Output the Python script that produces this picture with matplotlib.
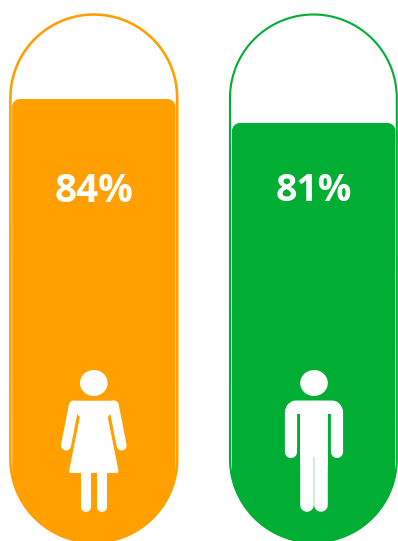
import numpy as np
import matplotlib.pyplot as plt
from matplotlib.patches import Ellipse, Polygon, Rectangle
from matplotlib.transforms import Affine2D

# Two capsule gauges, women and men

#DATA ----------------
GROUPS = ['women', 'men']
VALUES = [84, 81]
COLORS = ['#FFA000', '#00AE33']

#LAYOUT ----------------
WIDTH, HEIGHT = 398, 541
CENTERS = [93.8, 313.4]
FILL_SHIFTS = [0, 0.3]
LABEL_SIZES = [27.8, 26.9]
RADIUS = 83.4
CAP_TOP = 14.5
CAP_BOTTOM = 459
LINE_WIDTHS = [2.6, 2.1]
WHITE = '#FFFFFF'

plt.rcParams['font.family'] = ['Open Sans', 'DejaVu Sans']

fig = plt.figure(figsize=(WIDTH / 100, HEIGHT / 100), dpi=100)
ax = fig.add_axes([0, 0, 1, 1])
ax.set_xlim(0, WIDTH)
ax.set_ylim(28.75, 96.375)
ax.axis('off')

# pixel coordinates with the origin top left, used for the outlines and icons
px = Affine2D().scale(1, -1).translate(0, HEIGHT)


def arc(cx, cy, r, start, stop):
    t = np.radians(np.linspace(start, stop, 60))
    return np.column_stack([cx + r * np.cos(t), cy + r * np.sin(t)])


def add_outline(cx, color, lw_px):
    top = arc(cx, CAP_TOP + RADIUS, RADIUS, 180, 360)
    bottom = arc(cx, CAP_BOTTOM, RADIUS, 0, 180)
    ax.add_patch(Polygon(np.vstack([top, bottom]), closed=True, fill=False, edgecolor=color,
                         linewidth=lw_px * 0.72, transform=px, clip_on=False))


def add_fill(cx, value, color, shift):
    # value goes through the axis scale to find the level of the fill
    level = HEIGHT - ax.transData.transform((0, value))[1]
    half = RADIUS - 1.7
    corner = 8
    left_top = arc(cx + shift - half + corner, level + corner, corner, 180, 270)
    right_top = arc(cx + shift + half - corner, level + corner, corner, 270, 360)
    # the sides run into the outline towards the bottom
    bottom = arc(cx, CAP_BOTTOM, RADIUS, 12, 168)
    ax.add_patch(Polygon(np.vstack([left_top, right_top, bottom]), closed=True, facecolor=color,
                         edgecolor='none', transform=px, clip_on=False))


def limb(x, y, lw_px):
    ax.plot(x, y, color=WHITE, linewidth=lw_px * 0.72, solid_capstyle='round', transform=px)


def add_woman(cx):
    ax.add_patch(Ellipse((cx, 383), 27.6, 26, facecolor=WHITE, edgecolor='none', transform=px))
    # shoulders and dress
    dress = [(cx - 20, 401), (cx + 20, 401), (cx + 22, 407), (cx + 13.6, 417), (cx + 24.4, 471),
             (cx + 23.6, 472.8), (cx - 23.6, 472.8), (cx - 24.4, 471), (cx - 13.6, 417), (cx - 22, 407)]
    ax.add_patch(Polygon(dress, closed=True, facecolor=WHITE, edgecolor=WHITE, linewidth=0.4, transform=px))
    limb([cx - 20, cx - 27.8], [405.5, 445.5], 10)
    limb([cx + 20, cx + 27.8], [405.5, 445.5], 10)
    # legs
    limb([cx - 7.8, cx - 7.8], [470, 506.5], 10)
    limb([cx + 7.8, cx + 7.8], [470, 506.5], 10)


def add_man(cx, color):
    cx = cx + 0.6
    ax.add_patch(Ellipse((cx, 383), 27.6, 26, facecolor=WHITE, edgecolor='none', transform=px))
    # shoulders, rounded on the outer corners only
    left = arc(cx - 28.7 + 11, 400.5 + 11, 11, 180, 270)
    right = arc(cx + 28.7 - 11, 400.5 + 11, 11, 270, 360)
    ax.add_patch(Polygon(np.vstack([left, right, [(cx + 28.7, 414), (cx - 28.7, 414)]]), closed=True,
                         facecolor=WHITE, edgecolor='none', transform=px))
    ax.add_patch(Rectangle((cx - 14.2, 405), 28.4, 60, facecolor=WHITE, edgecolor='none', transform=px))
    limb([cx - 22.6, cx - 22.6], [412, 451.5], 12.2)
    limb([cx + 22.6, cx + 22.6], [412, 451.5], 12.2)
    # legs
    limb([cx - 7.4, cx - 7.4], [450, 504.8], 13.6)
    limb([cx + 7.4, cx + 7.4], [450, 504.8], 13.6)
    ax.add_patch(Rectangle((cx - 0.7, 457), 1.4, 50, facecolor=color, edgecolor='none', transform=px))


for group, cx, value, color, lw_px, shift, size in zip(GROUPS, CENTERS, VALUES, COLORS, LINE_WIDTHS,
                                                       FILL_SHIFTS, LABEL_SIZES):
    add_outline(cx, color, lw_px)
    add_fill(cx, value, color, shift)
    ax.text(cx, 191, f'{value}%', color=WHITE, fontsize=size, fontweight='bold',
            ha='center', va='center', transform=px)
    if group == 'women':
        add_woman(cx)
    else:
        add_man(cx, color)

fig.savefig('out.png', dpi=100, facecolor='white')
